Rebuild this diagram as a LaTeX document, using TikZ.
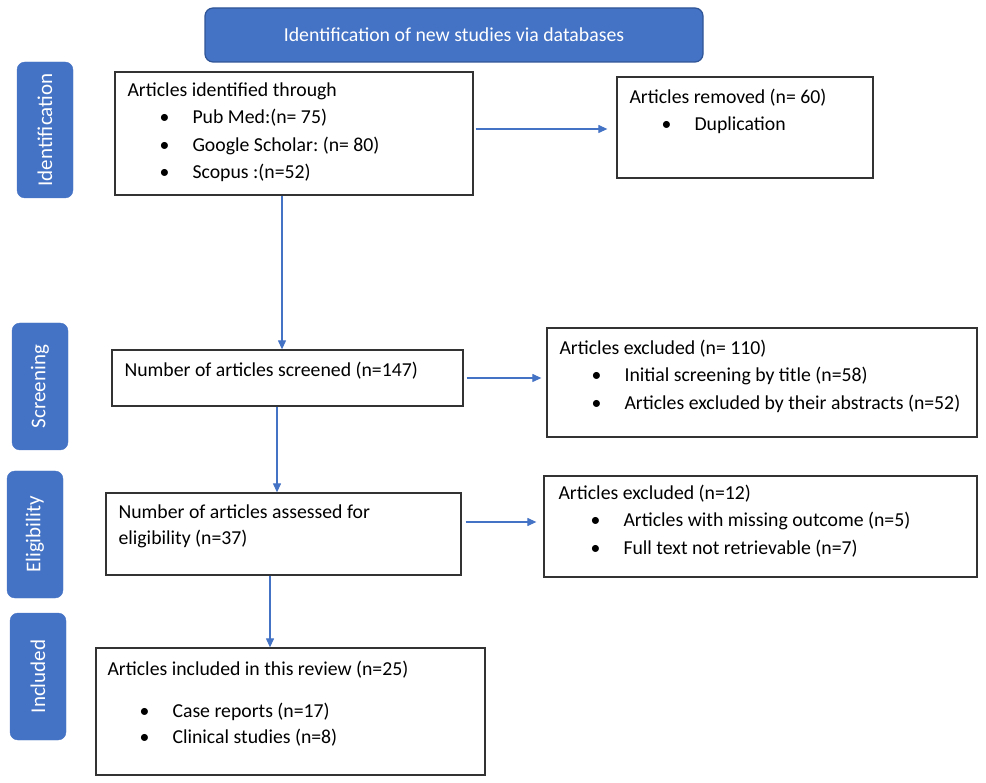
\documentclass[tikz,border=0pt]{standalone}
\usepackage{fontspec}
\setmainfont{Carlito}
\usetikzlibrary{arrows.meta, calc, positioning}
\frenchspacing

\definecolor{prismablue}{RGB}{68,114,196}
\definecolor{prismaedge}{RGB}{47,85,151}
\newcommand{\itm}[1]{\hspace*{32pt}\makebox[33pt][l]{\textbullet}#1}
\newcommand{\firstln}{\rule{0pt}{16pt}}

\begin{document}
\begin{tikzpicture}[
    x=1pt, y=1pt,
    header/.style={rectangle, rounded corners=8pt, fill=prismablue, draw=prismaedge, line width=1.2pt, text=white, minimum width=498pt, minimum height=54pt, font=\fontsize{19.8}{22}\selectfont},
    phase/.style={rectangle, rounded corners=8pt, fill=prismablue, draw=prismablue, text=white, rotate=90, minimum width=127pt, minimum height=56pt, inner sep=0pt, font=\fontsize{21}{24}\selectfont},
    box/.style={rectangle, draw=black!80, line width=1.3pt, inner sep=0pt},
    boxtext/.style={anchor=north west, inner sep=0pt, align=left, font=\fontsize{19.75}{27.5}\selectfont},
    arrow/.style={-{Triangle[length=9pt, width=8pt]}, draw=prismablue, line width=1.2pt},
]
\useasboundingbox (0,0) rectangle (986,-783);

% header and phases
\node[header] (head) at (454,-35) {Identification of new studies via databases};
\node[phase, minimum width=136pt] (pident) at (45,-130) {Identification};
\node[phase] (pscreen) at (40,-386.5) {Screening};
\node[phase] (pelig) at (35,-534.5) {Eligibility};
\node[phase] (pincl) at (38,-676.5) {Included};

% boxes
\node[box, minimum width=358pt, minimum height=123pt] (ident) at (294,-133.5) {};
\node[box, minimum width=256pt, minimum height=101pt] (removed) at (745,-127.5) {};
\node[box, minimum width=351pt, minimum height=56pt] (screened) at (287.5,-378) {};
\node[box, minimum width=430pt, minimum height=109pt] (exclA) at (762,-382.5) {};
\node[box, minimum width=355pt, minimum height=82pt] (assessed) at (283.5,-534) {};
\node[box, minimum width=433pt, minimum height=101pt] (exclB) at (760.5,-526.5) {};
\node[box, minimum width=389pt, minimum height=127pt] (included) at (290.5,-711.5) {};

% texts
\node[boxtext] (identtxt) at ($(ident.north west)+(13,-8.8)$) {\firstln Articles identified through\\
  \itm{Pub Med:(n= 75)}\\ \itm{Google Scholar: (n= 80)}\\ \itm{Scopus :(n=52)}};
\node[boxtext] (removedtxt) at ($(removed.north west)+(13,-10.8)$) {\firstln Articles removed (n= 60)\\
  \itm{Duplication}};
\node[boxtext] (screenedtxt) at ($(screened.north west)+(13,-10.8)$) {\firstln Number of articles screened (n=147)};
\node[boxtext] (exclAtxt) at ($(exclA.north west)+(13,-10.8)$) {\firstln Articles excluded (n= 110)\\
  \itm{Initial screening by title (n=58)}\\ \itm{Articles excluded by their abstracts (n=52)}};
\node[boxtext, font=\fontsize{19.75}{26}\selectfont] (assessedtxt) at ($(assessed.north west)+(13,-9.8)$) {\firstln Number of articles assessed for\\ eligibility (n=37)};
\node[boxtext] (exclBtxt) at ($(exclB.north west)+(15,-7.8)$) {\firstln Articles excluded (n=12)\\
  \itm{Articles with missing outcome (n=5)}\\ \itm{Full text not retrievable (n=7)}};
\node[boxtext, font=\fontsize{19.75}{26}\selectfont] (includedtxt) at ($(included.north west)+(12,-11.8)$) {\firstln Articles included in this review (n=25)\\[16pt]
  \itm{Case reports (n=17)}\\ \itm{Clinical studies (n=8)}};

% connectors
\draw[arrow] ([xshift=-12pt]ident.south) -- ([xshift=-5.5pt]screened.north);
\draw[arrow] ([xshift=-10.5pt]screened.south) -- ([xshift=-6.5pt]assessed.north);
\draw[arrow] ([xshift=-13.5pt]assessed.south) -- ([xshift=-20.5pt]included.north);
\draw[arrow, shorten <=2pt, shorten >=9pt] ([yshift=4.5pt]ident.east) -- ([yshift=4.5pt]ident.east -| removed.west);
\draw[arrow, shorten <=3pt, shorten >=5pt] (screened.east) -- (screened.east -| exclA.west);
\draw[arrow, shorten <=4pt, shorten >=7pt] ([yshift=12pt]assessed.east) -- ([yshift=12pt]assessed.east -| exclB.west);

\end{tikzpicture}
\end{document}
